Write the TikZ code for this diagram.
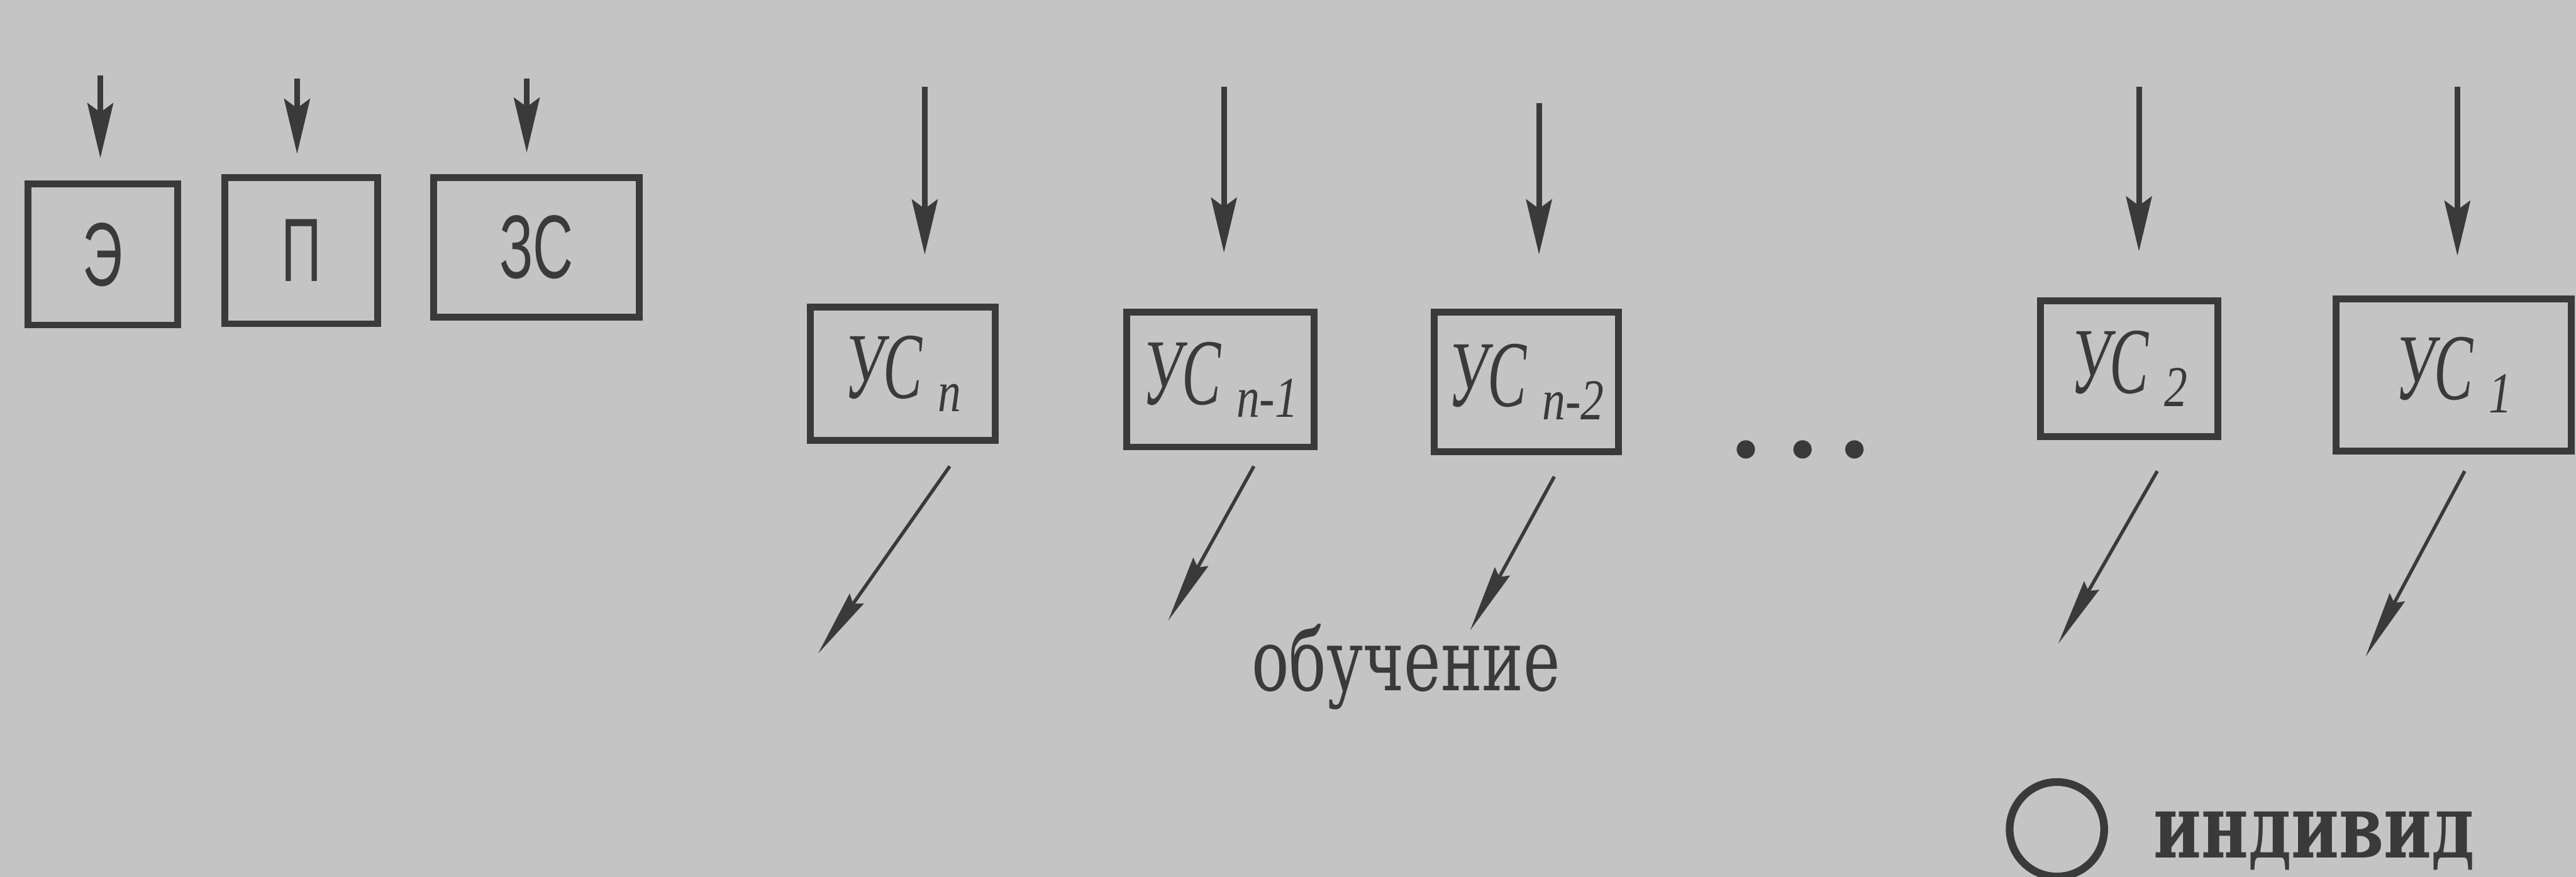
\documentclass[tikz,border=0pt]{standalone}
\usepackage{fontspec}
\setmainfont{Liberation Serif}
\newfontfamily\typefont{DejaVu Serif}
\newfontfamily\boxfont{Liberation Sans}
\usepackage{graphicx}
\usetikzlibrary{arrows.meta,calc,positioning}
\definecolor{paper}{RGB}{196,196,196}
\definecolor{ink}{RGB}{58,58,58}
\tikzset{
  blk/.style={draw=ink,line width=3.2pt,inner sep=0pt,text=ink},
  inarrow/.style={-{Stealth[length=9mm,width=4.2mm,inset=1.5mm]},line width=2.6pt,ink},
  outarrow/.style={-{Stealth[length=11mm,width=2.8mm,inset=1mm]},line width=1.6pt,ink},
}
\newcommand{\boxlbl}[1]{{\boxfont\fontsize{42}{42}\selectfont\scalebox{0.62}[1]{#1}}}
\newcommand{\uslbl}[1]{{\itshape\fontsize{44}{44}\selectfont\scalebox{0.62}[1]{УС}\,\raisebox{-0.3ex}{\fontsize{27}{27}\selectfont\scalebox{0.8}[1]{#1}}}}

\begin{document}
\begin{tikzpicture}
  \fill[paper] (0,0) rectangle (42.23,-14.38);
  \useasboundingbox (0,0) rectangle (42.23,-14.38);
  % input blocks
  \node[blk,minimum width=2.45cm,minimum height=2.31cm] (e) at (1.685,-4.175) {\boxlbl{Э}};
  \node[blk,minimum width=2.5cm,minimum height=2.4cm] (p) at (4.94,-4.11) {\boxlbl{П}};
  \node[blk,minimum width=3.37cm,minimum height=2.29cm] (zs) at (8.795,-4.055) {\boxlbl{ЗС}};
  % УС blocks
  \node[blk,minimum width=3.04cm,minimum height=2.18cm] (usn) at (14.80,-6.13) {\uslbl{n}};
  \node[blk,minimum width=3.07cm,minimum height=2.21cm] (usn1) at (20.005,-6.225) {\uslbl{n-1}};
  \node[blk,minimum width=3.02cm,minimum height=2.29cm] (usn2) at (25.02,-6.265) {\uslbl{n-2}};
  \node[blk,minimum width=2.91cm,minimum height=2.23cm] (us2) at (34.905,-6.045) {\uslbl{2}};
  \node[blk,minimum width=3.85cm,minimum height=2.5cm] (us1) at (40.225,-6.15) {\uslbl{1}};
  \foreach \x in {28.62,29.55,30.40} \fill[ink] (\x,-7.37) circle (0.15);
  % inputs from above
  \foreach \n/\dx/\len/\gap in {e/-0.04/1.73/0.37, p/-0.07/1.56/0.33, zs/-0.16/1.56/0.35,
      usn/0.36/3.56/0.81, usn1/0.06/3.64/0.92, usn2/0.21/3.37/0.89, us2/0.16/3.45/0.75, us1/0.06/3.42/0.65}
    \draw[inarrow] ([xshift=\dx cm,yshift=\len cm]\n.north) -- ([xshift=\dx cm,yshift=\gap cm]\n.north);
  % outputs
  \coordinate (usn-o) at (13.41,-10.72);
  \coordinate (usn1-o) at (19.15,-10.18);
  \coordinate (usn2-o) at (24.10,-10.34);
  \coordinate (us2-o) at (33.74,-10.56);
  \coordinate (us1-o) at (38.78,-10.77);
  \foreach \n/\dx/\dy in {usn/0.77/-0.37, usn1/0.55/-0.26, usn2/0.46/-0.35, us2/0.46/-0.51, us1/0.18/-0.27}
    \draw[outarrow] ([xshift=\dx cm,yshift=\dy cm]\n.south) -- (\n-o);
  \node[anchor=base,text=ink,font=\typefont\fontsize{29}{29}\selectfont] (learn) at (23.05,-11.33) {\scalebox{1}[1.38]{обучение}};
  % legend
  \node[circle,draw=ink,line width=3.6pt,minimum size=1.55cm] (ind-mark) at (33.72,-13.60) {};
  \node[anchor=base west,inner sep=0pt,text=ink,font=\typefont\bfseries\fontsize{30}{30}\selectfont] (ind) at (35.30,-14.07) {\scalebox{1}[1.38]{индивид}};
\end{tikzpicture}
\end{document}
